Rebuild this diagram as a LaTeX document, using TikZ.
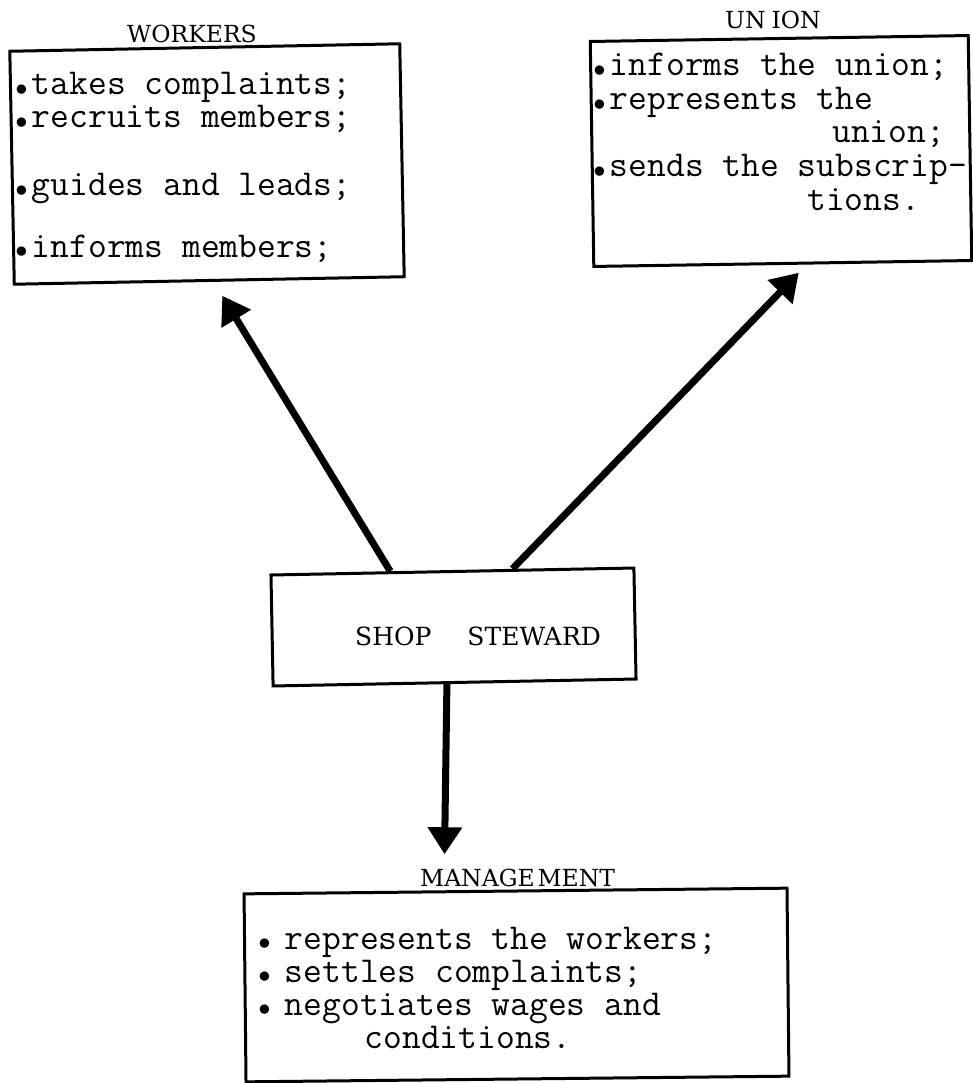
\documentclass[tikz,border=0pt]{standalone}
\usepackage{fontspec}
\usetikzlibrary{arrows.meta,calc}
\newfontfamily\heading{DejaVu Serif}
% a bullet set a little low, filling one typewriter cell
\newcommand\bul{\makebox[0.525em]{\raisebox{-0.1em}{•}}}

\begin{document}
\begin{tikzpicture}[x=1pt,y=-1pt,
  box/.style={draw, line width=3pt, inner sep=0pt},
  head/.style={anchor=base west, inner sep=0pt, font=\heading\fontsize{23.5pt}{28pt}\selectfont},
  item/.style={anchor=base west, inner sep=0pt,
    font={\ttfamily\fontsize{36.5pt}{40pt}\selectfont\addfontfeature{FakeBold=1.5}}},
  link/.style={line width=7pt, -{Triangle[length=27pt,width=33pt]}}
]
\useasboundingbox (0,0) rectangle (973,1083);
\fill[white] (0,0) rectangle (973,1083);

% the four boxes, each drawn a little off square
\node[box, minimum width=390pt, minimum height=233pt, rotate=1.1] (workers) at (207,164) {};
\node[box, minimum width=378pt, minimum height=225pt, rotate=0.9] (union) at (781,151) {};
\node[box, minimum width=363pt, minimum height=111pt, rotate=1.1] (steward) at (453.5,627) {};
\node[box, minimum width=543pt, minimum height=188pt, rotate=0.6] (mgmt) at (516.5,985) {};

% headings
\node[head] (workersT) at (127,43) {WORKERS};
\node[head] (unionT) at (725,29) {UN\kern6pt ION};
\node[head, font=\heading\fontsize{25pt}{30pt}\selectfont] (stewardT) at (355,645) {SHOP\hspace{36pt}STEWARD};
\node[head] (mgmtT) at (420,886) {MANAGE\kern3pt MENT};

% duties towards the workers
\node[item] (w1) at (12.5,95) {\bul takes complaints;};
\node[item] (w2) at (12.5,128) {\bul recruits members;};
\node[item] (w3) at (12.5,196) {\bul guides and leads;};
\node[item] (w4) at (12.5,257) {\bul informs members;};

% duties towards the union
\node[item] (u1) at (590.5,76) {\bul informs the union;};
\node[item] (u2) at (590.5,110) {\bul represents the};
\node[item] (u3) at (832,143) {union;};
\node[item] (u4) at (590.5,177) {\bul sends the subscrip-};
\node[item] (u5) at (807,211) {tions.};

% duties towards management
\node[item] (m1) at (255.5,949) {\bul\hspace{10pt}represents the workers;};
\node[item] (m2) at (255.5,982) {\bul\hspace{10pt}settles complaints;};
\node[item] (m3) at (255.5,1015) {\bul\hspace{10pt}negotiates wages and};
\node[item] (m4) at (364.5,1048) {conditions.};

% arrow tips just short of the boxes
\coordinate (wtip) at ($(workers.south west)!0.533!(workers.south east)+(0,14)$);
\coordinate (utip) at ($(union.south west)!0.542!(union.south east)+(0,8)$);
\coordinate (mtip) at ($(mgmt.north west)!0.37!(mgmt.north east)+(0,-36)$);

% connectors
\draw[link] ($(steward.north west)!0.33!(steward.north east)$) -- (wtip);
\draw[link] ($(steward.north west)!0.664!(steward.north east)$) -- (utip);
\draw[link] ($(steward.south west)!0.479!(steward.south east)$) -- (mtip);
\end{tikzpicture}
\end{document}
